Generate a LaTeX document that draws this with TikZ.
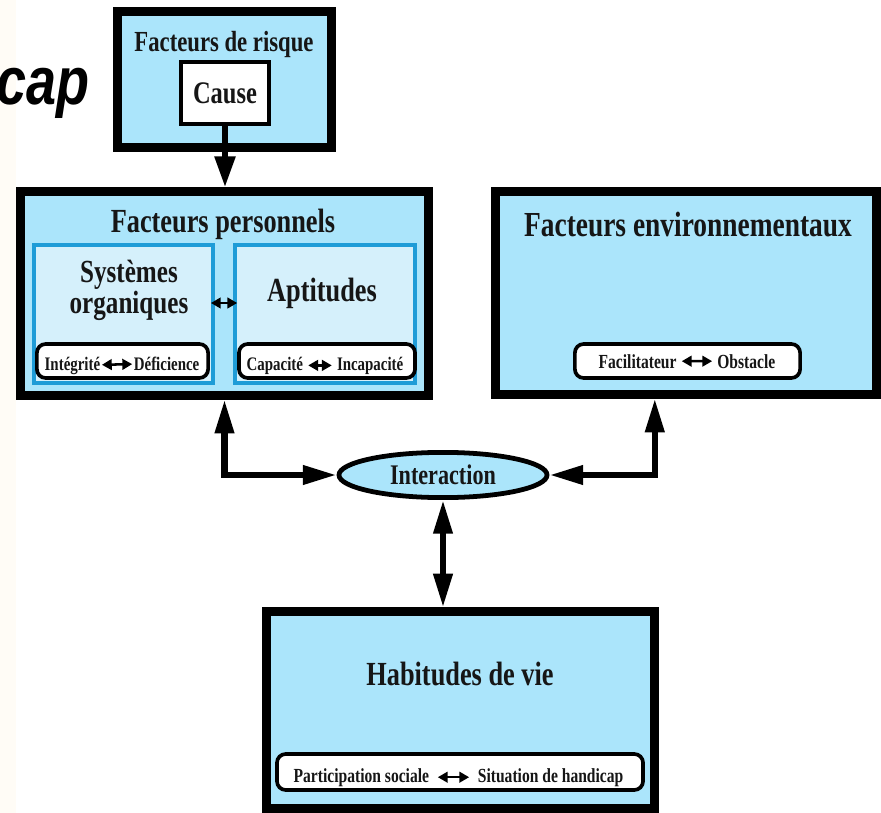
\documentclass[tikz,border=0pt]{standalone}
\usepackage{fontspec}
\setmainfont{Liberation Serif}[FakeStretch=0.78]
\newfontfamily\capfont{Liberation Sans}[FakeStretch=0.8]
\usetikzlibrary{arrows.meta,shapes.geometric}

\definecolor{boxblue}{RGB}{171,229,251}
\definecolor{subblue}{RGB}{213,240,251}
\definecolor{subline}{RGB}{30,156,215}
\definecolor{inkblack}{RGB}{22,22,22}
\definecolor{cream}{RGB}{255,252,246}

\begin{document}
\begin{tikzpicture}[x=0.025cm,y=-0.025cm,
  bigbox/.style={draw=black,line width=6.4pt,fill=boxblue,inner sep=0pt},
  subbox/.style={draw=subline,line width=2.5pt,fill=subblue,inner sep=0pt},
  pillbox/.style={draw=black,line width=2.6pt,fill=white,rounded corners=0.22cm,inner sep=0pt},
  heading/.style={font=\bfseries\fontsize{24pt}{28pt}\selectfont,text=inkblack,anchor=base,inner sep=0pt},
  pilltext/.style={font=\bfseries\fontsize{13.6pt}{15pt}\selectfont,text=inkblack,inner sep=1pt},
  bigarrow/.style={line width=4.4pt,-{Triangle[width=14pt,length=22pt]}},
  twoway/.style={line width=4.4pt,{Triangle[width=13pt,length=24pt]}-{Triangle[width=13pt,length=24pt]}},
  tinyarrow/.style={line width=1.8pt,{Triangle[width=7.5pt,length=7pt]}-{Triangle[width=7.5pt,length=7pt]}},
  pillarrow/.style={tinyarrow,shorten <=2.5pt,shorten >=2.5pt}]
  \useasboundingbox (0,0) rectangle (881,813);
  \fill[cream] (0,0) rectangle (16,813);
  \node[font=\capfont\bfseries\itshape\fontsize{48pt}{54pt}\selectfont,anchor=base west,inner sep=0pt] (capword) at (-4,105) {cap};

  % risque
  \node[bigbox,minimum width=5.34cm,minimum height=3.41cm] (risk) at (224.25,79.75) {};
  \node[heading,font=\bfseries\fontsize{20.7pt}{24pt}\selectfont] (risktitle) at (224,52) {Facteurs de risque};
  \node[draw=black,line width=2.8pt,fill=white,minimum width=2.2cm,minimum height=1.55cm,inner sep=0pt,
        text=inkblack,font=\bfseries\fontsize{22.3pt}{26pt}\selectfont] (cause) at (225,93) {Cause};

  % personnels
  \node[bigbox,minimum width=10.18cm,minimum height=5.08cm] (personal) at (224.5,293.5) {};
  \node[heading] (personaltitle) at (223,233) {Facteurs personnels};
  \node[subbox,minimum width=4.48cm,minimum height=3.45cm] (organic) at (123.5,314) {};
  \node[subbox,minimum width=4.5cm,minimum height=3.45cm] (aptitude) at (325,314) {};
  \node[heading,font=\bfseries\fontsize{22.9pt}{22pt}\selectfont,align=center] (organictitle) at (129,313) {Systèmes\\organiques};
  \node[heading] (aptitudetitle) at (322,302) {Aptitudes};
  \draw[tinyarrow,shorten <=-0.1cm,shorten >=-0.1cm] ([yshift=0.275cm]organic.east) -- ([yshift=0.275cm]aptitude.west);

  \node[pillbox,minimum width=4.28cm,minimum height=0.85cm] (integbox) at (122.5,361) {};
  \node[pilltext,anchor=base west] (integ) at (43,370) {Intégrité};
  \node[pilltext,anchor=base east] (defic) at (201,370) {Déficience};
  \draw[tinyarrow] (integ) -- (defic);

  \node[pillbox,minimum width=4.4cm,minimum height=0.85cm] (capabox) at (327,361) {};
  \node[pilltext,anchor=base west] (capa) at (245,370) {Capacité};
  \node[pilltext,anchor=base east] (incapa) at (405,370) {Incapacité};
  \draw[pillarrow] (capa) -- (incapa);

  % environnementaux
  \node[bigbox,minimum width=9.5cm,minimum height=5.05cm] (environ) at (686,293) {};
  \node[heading,font=\bfseries\fontsize{25pt}{28pt}\selectfont] (environtitle) at (688,237) {Facteurs environnementaux};
  \node[pillbox,minimum width=5.63cm,minimum height=0.85cm] (facilbox) at (687.5,361) {};
  \node[pilltext,font=\bfseries\fontsize{14.2pt}{16pt}\selectfont,anchor=base west] (facil) at (597,368) {Facilitateur};
  \node[pilltext,font=\bfseries\fontsize{14.2pt}{16pt}\selectfont,anchor=base east] (obstacle) at (777,368) {Obstacle};
  \draw[pillarrow] (facil) -- (obstacle);

  % interaction
  \node[ellipse,draw=black,line width=3.4pt,fill=boxblue,minimum width=5.2cm,minimum height=1.13cm,inner sep=0pt,
        text=inkblack,font=\bfseries\fontsize{20.2pt}{24pt}\selectfont] (interaction) at (443,475) {Interaction};

  % habitudes
  \node[bigbox,minimum width=9.68cm,minimum height=4.9cm] (habit) at (460.5,710) {};
  \node[heading] (habittitle) at (460,685) {Habitudes de vie};
  \node[pillbox,minimum width=9.15cm,minimum height=0.9cm] (particbox) at (460,772) {};
  \node[pilltext,font=\bfseries\fontsize{14.2pt}{16pt}\selectfont,anchor=base west] (partic) at (292,782) {Participation sociale};
  \node[pilltext,font=\bfseries\fontsize{14.2pt}{16pt}\selectfont,anchor=base east] (handicap) at (625,782) {Situation de handicap};
  \draw[pillarrow,shorten <=5pt,shorten >=5pt] (partic) -- (handicap);

  % liens
  \draw[bigarrow] (cause.south) -- (cause.south |- personal.north);
  \draw[twoway] (personal.south) |- (interaction.west);
  \draw[twoway] ([xshift=-0.78cm]environ.south) |- (interaction.east);
  \draw[twoway] (interaction.south) -- (interaction.south |- habit.north);
\end{tikzpicture}
\end{document}
